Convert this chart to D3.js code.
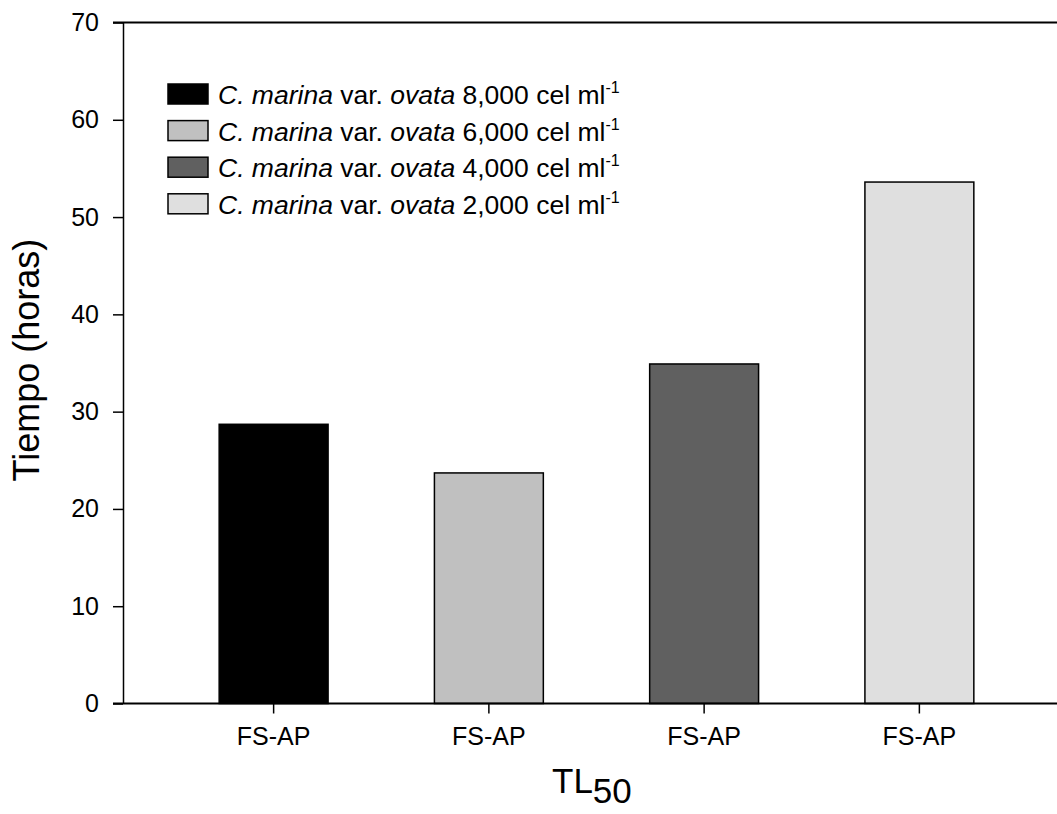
<!DOCTYPE html>
<html><head><meta charset="utf-8">
<script src="https://cdn.jsdelivr.net/npm/d3@7"></script>
<style>body{margin:0;background:#fff}svg{display:block;font-family:"Liberation Sans",Arial,sans-serif}</style>
</head><body><svg id="c" width="1057" height="814"></svg>
<script>
const categories = ["FS-AP","FS-AP","FS-AP","FS-AP"];
const values = [28.7, 23.7, 34.9, 53.6];
const concentrations = ["8,000","6,000","4,000","2,000"];
const colors = ["#000000","#c0c0c0","#606060","#dfdfdf"];
const yTicks = [0,10,20,30,40,50,60,70];

(function(){
const svg = d3.select("#c");
const mLeft = 123, mTop = 22.5, mBottom = 703.5, mRight = 1057;
const y = d3.scaleLinear().domain([0,70]).range([mBottom, mTop]);
const x = d3.scaleBand().domain(d3.range(categories.length)).range([166,1027]).paddingInner(0.494).paddingOuter(0.247);

// bars
svg.selectAll("rect.bar").data(values).join("rect").attr("class","bar")
  .attr("x",(d,i)=>x(i)).attr("width",x.bandwidth())
  .attr("y",d=>y(d)).attr("height",d=>y(0)-y(d))
  .attr("fill",(d,i)=>colors[i]).attr("stroke","#000").attr("stroke-width",1.5);

// y axis
const ya = svg.append("g").attr("transform",`translate(${mLeft},0)`)
  .call(d3.axisLeft(y).tickValues(yTicks).tickSize(10).tickSizeOuter(0).tickPadding(14));
ya.select(".domain").attr("stroke-width",1.5);
ya.selectAll(".tick line").attr("stroke-width",1.5);
ya.selectAll("text").attr("font-size",25).attr("font-family","Liberation Sans, Arial, sans-serif").attr("fill","#000");

// x axis
const xa = svg.append("g").attr("transform",`translate(0,${mBottom})`)
  .call(d3.axisBottom(x).tickFormat(i=>categories[i]).tickSize(10).tickSizeOuter(0).tickPadding(14));
xa.select(".domain").remove();
xa.selectAll(".tick line").attr("stroke-width",1.5);
xa.selectAll("text").attr("font-size",25).attr("font-family","Liberation Sans, Arial, sans-serif").attr("fill","#000");
svg.append("line").attr("x1",mLeft-10).attr("x2",mRight).attr("y1",mBottom).attr("y2",mBottom).attr("stroke","#000").attr("stroke-width",2);
// top border
svg.append("line").attr("x1",mLeft-10).attr("x2",mRight).attr("y1",mTop).attr("y2",mTop).attr("stroke","#000").attr("stroke-width",2);

// y label
svg.append("text").attr("transform","translate(39,360) rotate(-90)").attr("text-anchor","middle")
  .attr("font-size",36).text("Tiempo (horas)");

// x label
const xl = svg.append("text").attr("x",552).attr("y",793).attr("font-size",35);
xl.append("tspan").text("TL");
xl.append("tspan").attr("dy",10).attr("font-size",35).text("50");

// legend
const lg = svg.append("g");
concentrations.forEach((c,i)=>{
  const cy = 94 + i*36.6;
  lg.append("rect").attr("x",168).attr("y",cy-10).attr("width",40).attr("height",20)
    .attr("fill",colors[i]).attr("stroke","#000").attr("stroke-width",1.5);
  const t = lg.append("text").attr("x",218).attr("y",cy+10).attr("font-size",26.5);
  t.append("tspan").attr("font-style","italic").text("C. marina");
  t.append("tspan").text(" var. ");
  t.append("tspan").attr("font-style","italic").text("ovata");
  t.append("tspan").text(` ${c} cel ml`);
  t.append("tspan").attr("font-size",16).attr("dy",-11).text("-1");
});
})();
</script></body></html>
